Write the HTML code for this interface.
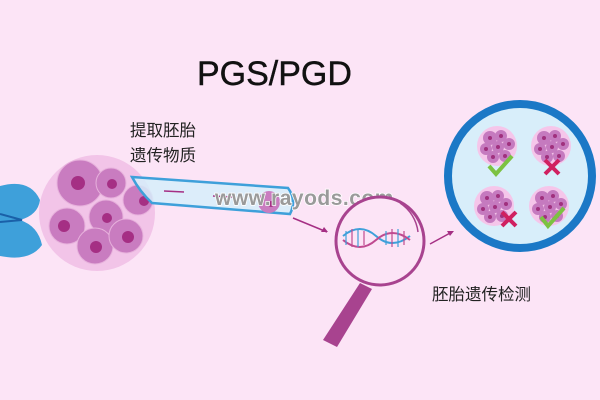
<!DOCTYPE html>
<html><head><meta charset="utf-8"><style>
html,body{margin:0;padding:0;background:#fce4f6;}
svg{display:block}
text{font-family:"Liberation Sans","Noto Sans CJK SC",sans-serif;}
</style></head><body>
<svg width="600" height="400" viewBox="0 0 600 400" xmlns="http://www.w3.org/2000/svg">
<defs>
<g id="mini">
  <circle cx="0" cy="0" r="20" fill="#f5c6ea"/>
  <circle cx="-7" cy="-8" r="7" fill="#c57abf"/>
  <circle cx="4" cy="-10" r="6" fill="#c57abf"/>
  <circle cx="12" cy="-2" r="6" fill="#c57abf"/>
  <circle cx="-11" cy="3" r="6" fill="#c57abf"/>
  <circle cx="1" cy="1" r="6" fill="#c57abf"/>
  <circle cx="-4" cy="11" r="6" fill="#c57abf"/>
  <circle cx="8" cy="10" r="6" fill="#c57abf"/>
  <circle cx="-7" cy="-8" r="2" fill="#a0307e"/>
  <circle cx="4" cy="-10" r="2" fill="#a0307e"/>
  <circle cx="12" cy="-2" r="2" fill="#a0307e"/>
  <circle cx="-11" cy="3" r="2" fill="#a0307e"/>
  <circle cx="1" cy="1" r="2" fill="#a0307e"/>
  <circle cx="-4" cy="11" r="2" fill="#a0307e"/>
  <circle cx="8" cy="10" r="2" fill="#a0307e"/>
</g>
</defs>
<rect width="600" height="400" fill="#fce4f6"/>
<text x="197" y="85" font-size="34" fill="#111" stroke="#111" stroke-width="0.4">PGS/PGD</text>
<text x="130" y="136" font-size="16.5" fill="#222">提取胚胎</text>
<text x="130" y="161" font-size="16.5" fill="#222">遗传物质</text>
<text x="432" y="300" font-size="16.5" fill="#222">胚胎遗传检测</text>

<!-- holding pipette -->
<path d="M0,186 Q30,178 40,200 Q38,215 20,220 Q38,226 42,245 Q30,262 0,256 Z" fill="#3ea0da"/>
<path d="M0,222 L22,220 L0,214" fill="none" stroke="#1a60a8" stroke-width="2"/>

<!-- embryo -->
<circle cx="97" cy="213" r="58" fill="#f2c4e8"/>
<circle cx="80" cy="183" r="23" fill="#c97cc0" stroke="#e7b1dc"/>
<circle cx="78" cy="183" r="7" fill="#a52f84"/>
<circle cx="111" cy="183" r="15" fill="#c97cc0" stroke="#e7b1dc"/>
<circle cx="112" cy="184" r="5" fill="#a52f84"/>
<circle cx="138" cy="200" r="15" fill="#c97cc0" stroke="#e7b1dc"/>
<circle cx="144" cy="201" r="5" fill="#a52f84"/>
<circle cx="67" cy="226" r="18" fill="#c97cc0" stroke="#e7b1dc"/>
<circle cx="64" cy="226" r="6" fill="#a52f84"/>
<circle cx="106" cy="217" r="17" fill="#c97cc0" stroke="#e7b1dc"/>
<circle cx="107" cy="218" r="5" fill="#a52f84"/>
<circle cx="95" cy="246" r="18" fill="#c97cc0" stroke="#e7b1dc"/>
<circle cx="96" cy="247" r="6" fill="#a52f84"/>
<circle cx="126" cy="236" r="17" fill="#c97cc0" stroke="#e7b1dc"/>
<circle cx="128" cy="237" r="6" fill="#a52f84"/>

<!-- biopsy pipette -->
<path d="M132,177 L288,188 Q297,200 290,214 L152,203 Q140,192 132,177 Z" fill="#d6effa" fill-opacity="0.85" stroke="#3ea0da" stroke-width="2.5"/>
<circle cx="269" cy="202" r="11" fill="#c97cc0"/>
<circle cx="271" cy="204" r="3" fill="#a52f84"/>
<line x1="164" y1="191" x2="184" y2="192" stroke="#a52f84" stroke-width="1.5"/>
<line x1="213" y1="196" x2="232" y2="197" stroke="#a52f84" stroke-width="1.5"/>
<text x="215" y="205" font-size="21" font-weight="bold" fill="#9a9a9a" stroke="#fff" stroke-width="1.5" paint-order="stroke" letter-spacing="0.5">www.rayods.com</text>

<!-- arrows -->
<line x1="293" y1="218" x2="327" y2="232" stroke="#a52f84" stroke-width="1.5"/>
<path d="M328,232 L321,232 L324,227 Z" fill="#a52f84"/>
<line x1="430" y1="244" x2="452" y2="232" stroke="#a52f84" stroke-width="1.5"/>
<path d="M454,231 L447,231 L450,236 Z" fill="#a52f84"/>

<!-- magnifier -->
<path d="M360,283 L372,289 L337,347 L323,340 Z" fill="#a8438f"/>
<circle cx="380" cy="241" r="44" fill="#fce4f6" stroke="#a8438f" stroke-width="3"/>
<path d="M400,203 A40,40 0 0 1 418,232" fill="none" stroke="#a8438f" stroke-width="1.5"/>
<path d="M343,236 Q360,222 376,236 Q392,250 410,236" fill="none" stroke="#3ea0da" stroke-width="2"/>
<path d="M343,240 Q360,254 376,240 Q392,226 410,240" fill="none" stroke="#c04a90" stroke-width="2"/>
<g stroke-width="1.2">
<line x1="346" y1="231" x2="346" y2="245" stroke="#3ea0da"/><line x1="352" y1="229" x2="352" y2="247" stroke="#c04a90"/>
<line x1="358" y1="229" x2="358" y2="247" stroke="#3ea0da"/><line x1="364" y1="231" x2="364" y2="245" stroke="#c04a90"/>
<line x1="386" y1="231" x2="386" y2="245" stroke="#3ea0da"/><line x1="392" y1="229" x2="392" y2="247" stroke="#c04a90"/>
<line x1="398" y1="229" x2="398" y2="247" stroke="#3ea0da"/><line x1="404" y1="231" x2="404" y2="245" stroke="#c04a90"/>
</g>

<!-- dish -->
<circle cx="520" cy="176" r="72" fill="#d8eefa" stroke="#1b78c6" stroke-width="8"/>
<use href="#mini" x="497" y="146"/>
<use href="#mini" x="551" y="146"/>
<use href="#mini" x="494" y="206"/>
<use href="#mini" x="549" y="206"/>
<path d="M489,166 L496,174 L512,156" fill="none" stroke="#7cc242" stroke-width="4"/>
<path d="M545,160 L559,174 M545,174 L559,160" fill="none" stroke="#d02060" stroke-width="4"/>
<path d="M502,212 L516,226 M502,226 L516,212" fill="none" stroke="#d02060" stroke-width="4"/>
<path d="M541,217 L548,226 L564,208" fill="none" stroke="#7cc242" stroke-width="4"/>
</svg>
</body></html>
